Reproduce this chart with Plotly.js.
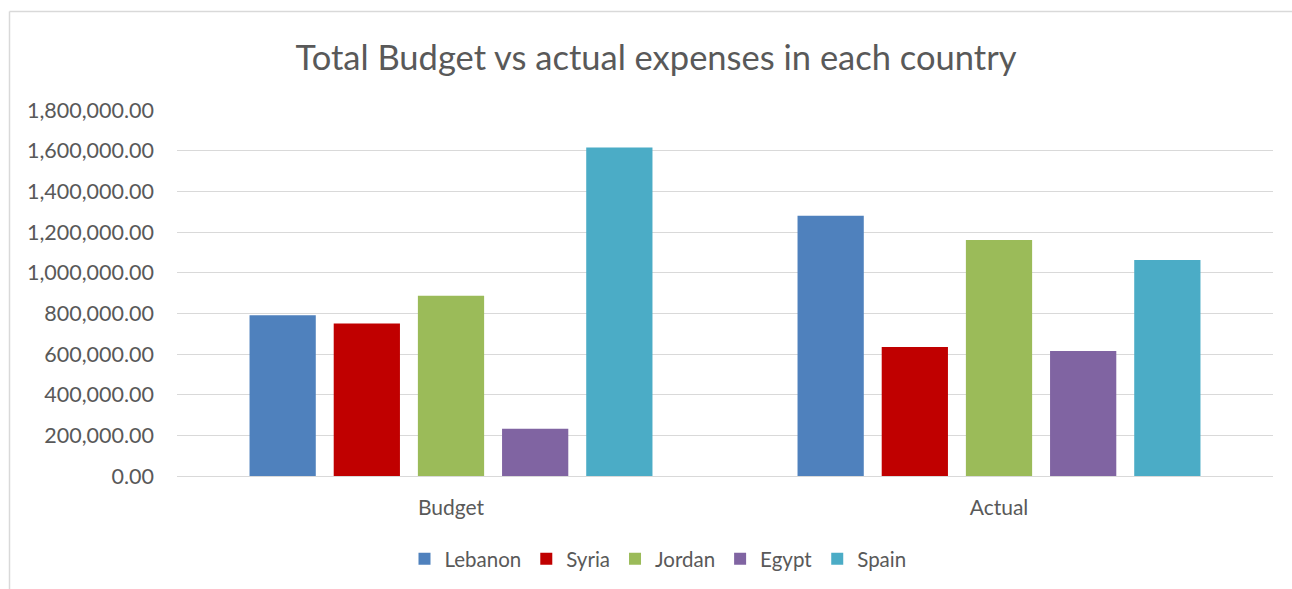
<!DOCTYPE html>
<html>
<head>
<meta charset="utf-8">
<script src="https://cdn.plot.ly/plotly-3.0.1.min.js"></script>
<style>
  html, body { margin: 0; padding: 0; background: #ffffff; }
  #chart { width: 1292px; height: 589px; }
</style>
</head>
<body>
<div id="chart"></div>
<script>
const categories = ["Budget", "Actual"];
const countries = ["Lebanon", "Syria", "Jordan", "Egypt", "Spain"];
const lebanon = [790000, 1280000];
const syria = [750000, 635000];
const jordan = [886000, 1161000];
const egypt = [232000, 615000];
const spain = [1615000, 1062000];
const colors = ["#4F81BD", "#C00000", "#9BBB59", "#8064A2", "#4BACC6"];
const seriesValues = [lebanon, syria, jordan, egypt, spain];

const fontFam = "Lato, 'Open Sans', sans-serif";
const textColor = "#595959";

const traces = countries.map((name, i) => ({
  type: "bar",
  name: name,
  x: categories,
  y: seriesValues[i],
  marker: { color: colors[i], line: { width: 0 } },
  hoverinfo: "x+y+name"
}));

const W = 1292, H = 589;
const m = { l: 177, r: 19, t: 110, b: 113, autoexpand: false };
const pw = W - m.l - m.r, ph = H - m.t - m.b;
function px2x(p) { return (p - m.l) / pw; }
function py2y(p) { return (H - m.b - p) / ph; }

const layout = {
  width: W,
  height: H,
  margin: m,
  paper_bgcolor: "#ffffff",
  plot_bgcolor: "#ffffff",
  font: { family: fontFam, color: textColor, size: 21 },
  title: {
    text: "Total Budget vs actual expenses in each country",
    font: { family: fontFam, size: 34.5, color: textColor },
    x: 656 / W,
    xanchor: "center",
    y: 1 - 58 / H,
    yanchor: "middle"
  },
  barmode: "group",
  bargap: 0.232,
  bargroupgap: 0.213,
  xaxis: {
    type: "category",
    showgrid: false,
    zeroline: false,
    showline: true,
    linecolor: "#d9d9d9",
    linewidth: 1,
    ticks: "",
    ticklabelstandoff: 13,
    tickfont: { family: fontFam, size: 21, color: textColor },
    automargin: false
  },
  yaxis: {
    range: [0, 1800000],
    dtick: 200000,
    tick0: 0,
    tickformat: ",.2f",
    showgrid: true,
    gridcolor: "#d9d9d9",
    gridwidth: 1,
    zeroline: false,
    showline: false,
    ticks: "",
    ticklabelstandoff: 22,
    tickfont: { family: fontFam, size: 21.5, color: textColor },
    automargin: false
  },
  legend: {
    orientation: "h",
    x: px2x(658),
    xanchor: "center",
    y: py2y(559),
    yanchor: "middle",
    font: { family: fontFam, size: 20.5, color: textColor },
    itemwidth: 30,
    traceorder: "normal"
  },
  showlegend: true,
  shapes: [
    {
      type: "line", xref: "paper", yref: "paper",
      x0: px2x(9.5), x1: px2x(9.5), y0: py2y(11.5), y1: py2y(600),
      line: { color: "#d9d9d9", width: 1.5 }, layer: "below"
    },
    {
      type: "line", xref: "paper", yref: "paper",
      x0: px2x(9.5), x1: px2x(1300), y0: py2y(11.5), y1: py2y(11.5),
      line: { color: "#d9d9d9", width: 1.5 }, layer: "below"
    }
  ]
};

Plotly.newPlot("chart", traces, layout, { displayModeBar: false, staticPlot: true });
</script>
</body>
</html>
